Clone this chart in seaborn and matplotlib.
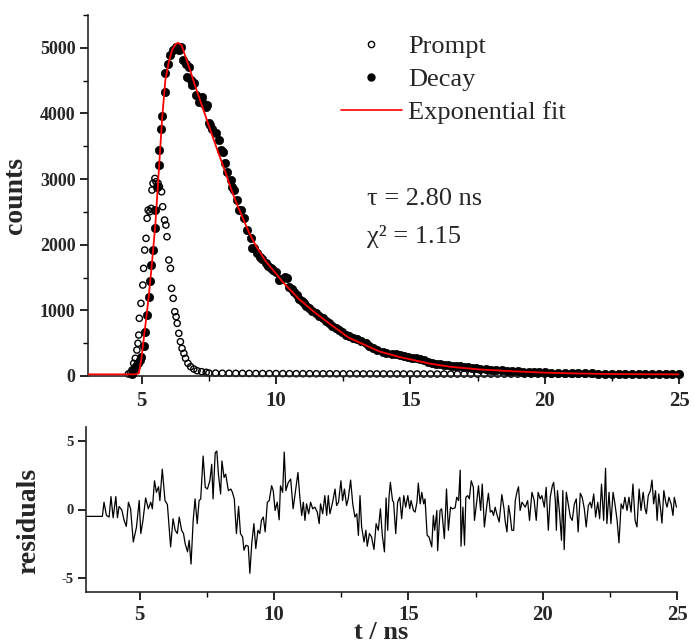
import seaborn as sns
import matplotlib.pyplot as plt
import numpy as np
from matplotlib.lines import Line2D
from matplotlib.ticker import MultipleLocator

# prompt (instrument response)
prompt_t = [4.50, 4.58, 4.64, 4.70, 4.76, 4.82, 4.86, 4.89, 4.91, 4.97, 5.04, 5.07,
            5.11, 5.16, 5.20, 5.24, 5.30, 5.35, 5.38, 5.42, 5.49, 5.53, 5.61, 5.66,
            5.74, 5.78, 5.85, 5.90, 5.94, 6.01, 6.07, 6.11, 6.17, 6.23, 6.28, 6.32,
            6.38, 6.44, 6.50, 6.57, 6.63, 6.72, 6.82, 6.94, 7.06, 7.23, 7.40]
prompt_c = [30, 50, 91, 193, 270, 396, 498, 624, 879, 1107, 1386, 1640,
            1919, 2097, 2402, 2528, 2502, 2554, 2833, 2935, 3010, 2960, 2935, 2883,
            2807, 2579, 2376, 2300, 2122, 1767, 1640, 1335, 1183, 980, 903, 802,
            650, 523, 421, 345, 270, 193, 142, 107, 81, 66, 56]
# flat prompt baseline, one value per channel from 7.5 ns to 25 ns
prompt_tail = [45, 44, 42, 41, 40, 40, 39, 38, 38, 37, 37, 36, 36, 35, 35, 35, 34, 34,
               34, 33, 33, 33, 33, 32, 32, 32, 32, 31, 31, 31, 31, 31, 30, 30, 30, 30,
               30, 30, 30, 29, 29, 29, 29, 29, 29, 29, 29, 28, 28, 28, 28, 28, 28, 28,
               28, 28, 28, 27, 27, 27, 27, 27, 27, 27, 27, 27, 27, 27, 27, 27, 27]

decay_t = [4.62, 4.70, 4.78, 4.86, 4.93, 4.99, 5.07, 5.14, 5.20, 5.26, 5.32, 5.36,
           5.42, 5.49, 5.51, 5.57, 5.63, 5.66, 5.70, 5.76, 5.85, 5.88, 5.98, 6.07,
           6.16, 6.26, 6.32, 6.38, 6.48, 6.53, 6.63, 6.69, 6.75, 6.82, 6.88, 6.94,
           7.03, 7.13, 7.19, 7.23, 7.31, 7.38, 7.44, 7.50, 7.56, 7.62, 7.75, 7.87,
           7.94, 8.02, 8.10, 8.18, 8.31, 8.37, 8.43, 8.56, 8.62, 8.68, 8.81, 8.93,
           9.06, 9.12, 9.18, 9.30, 9.40, 9.49, 9.62, 9.70, 9.80, 9.90, 9.99, 10.11,
           10.18, 10.34, 10.42, 10.49, 10.58, 10.67, 10.77, 10.86, 10.95, 11.04, 11.13, 11.23,
           11.35, 11.48, 11.60, 11.73, 11.85, 11.98, 12.10, 12.23, 12.35, 12.47, 12.60, 12.72,
           12.85, 13.00, 13.15, 13.35, 13.47, 13.60, 13.75, 13.97, 14.10, 14.30, 14.45, 14.60,
           14.75, 14.90, 15.05, 15.20, 15.35, 15.50, 15.65, 15.80, 15.95, 16.10, 16.25, 16.40,
           16.55, 16.70, 16.85, 17.00, 17.15, 17.30, 17.45, 17.60, 17.80, 18.00, 18.20, 18.40,
           18.60, 18.80, 19.00, 19.20, 19.40, 19.60, 19.80, 20.00, 20.25, 20.50, 20.75, 21.00,
           21.25, 21.50, 21.75, 22.00, 22.25, 22.50, 22.75, 23.00, 23.25, 23.50, 23.75, 24.00,
           24.25, 24.50, 24.75, 25.00]
decay_c = [30, 110, 150, 200, 250, 290, 450, 675, 930, 1210, 1440, 1690,
           1920, 2250, 2530, 2880, 3210, 3440, 3760, 3960, 4330, 4610, 4760, 4890,
           4965, 5015, 4990, 4965, 5015, 4810, 4760, 4560, 4710, 4510, 4430, 4460,
           4280, 4180, 4200, 4250, 4150, 4100, 4130, 3850, 3820, 3770, 3700, 3590,
           3440, 3420, 3240, 3110, 2985, 2880, 2830, 2680, 2530, 2530, 2400, 2220,
           2100, 1945, 1945, 1870, 1820, 1790, 1716, 1680, 1640, 1610, 1590, 1462,
           1480, 1512, 1500, 1360, 1320, 1284, 1230, 1180, 1140, 1107, 1070, 1031,
           990, 955, 915, 879, 840, 810, 760, 726, 700, 675, 630, 610,
           585, 560, 530, 500, 450, 420, 400, 370, 355, 340, 330, 320,
           300, 290, 280, 270, 255, 240, 220, 200, 190, 180, 175, 165,
           158, 150, 145, 140, 132, 125, 118, 110, 100, 95, 90, 85,
           80, 75, 70, 65, 62, 60, 57, 55, 52, 50, 47, 45,
           43, 40, 39, 38, 36, 35, 34, 33, 33, 32, 31, 30,
           30, 30, 29, 28]

fit_t = [3.00, 4.70, 4.80, 4.89, 4.99, 5.07, 5.16, 5.26, 5.38, 5.51, 5.63, 5.76,
         5.88, 6.01, 6.13, 6.26, 6.35, 6.48, 6.63, 6.82, 7.00, 7.25, 7.50, 7.81,
         8.12, 8.37, 8.56, 8.99, 9.24, 9.62, 9.99, 10.24, 10.86, 11.48, 12.10, 12.70,
         13.35, 13.84, 14.59, 15.71, 16.50, 17.57, 18.80, 20.06, 21.30, 22.55, 25.00]
fit_c = [25, 25, 30, 41, 270, 548, 853, 1208, 1716, 2325, 3087, 3925,
         4508, 4787, 4965, 5056, 5076, 5041, 4863, 4634, 4406, 4110, 3810, 3450,
         3100, 2800, 2600, 2190, 1990, 1745, 1564, 1436, 1170, 955, 765, 585,
         465, 375, 290, 190, 140, 100, 72, 50, 38, 30, 25]

res_t = [3.00, 3.61, 3.67, 3.76, 3.86, 3.93, 4.01, 4.11, 4.17, 4.23, 4.33, 4.42,
         4.50, 4.58, 4.66, 4.76, 4.88, 4.98, 5.04, 5.12, 5.22, 5.32, 5.41, 5.47,
         5.55, 5.62, 5.70, 5.75, 5.84, 5.94, 6.03, 6.15, 6.24, 6.32, 6.40, 6.47,
         6.56, 6.63, 6.69, 6.78, 6.84, 6.91, 6.99, 7.06, 7.14, 7.21, 7.27, 7.36,
         7.44, 7.52, 7.61, 7.68, 7.73, 7.81, 7.87, 7.93, 8.01, 8.06, 8.14, 8.20,
         8.30, 8.39, 8.45, 8.52, 8.60, 8.68, 8.75, 8.83, 8.88, 8.95, 9.04, 9.10,
         9.17, 9.25, 9.32, 9.40, 9.47, 9.53, 9.60, 9.67, 9.75, 9.82, 9.91, 9.97,
         10.04, 10.12, 10.19, 10.24, 10.32, 10.38, 10.44, 10.53, 10.62, 10.71, 10.81, 10.89,
         10.96, 11.03, 11.09, 11.15, 11.21, 11.29, 11.36, 11.44, 11.52, 11.61, 11.68, 11.73,
         11.81, 11.89, 11.96, 12.02, 12.08, 12.18, 12.27, 12.33, 12.40, 12.49, 12.55, 12.62,
         12.70, 12.76, 12.85, 12.93, 13.01, 13.08, 13.14, 13.20, 13.26, 13.35, 13.42, 13.47,
         13.55, 13.63, 13.72, 13.80, 13.88, 13.96, 14.03, 14.11, 14.17, 14.23, 14.28, 14.33,
         14.41, 14.45, 14.53, 14.60, 14.68, 14.75, 14.83, 14.90, 14.98, 15.05, 15.10, 15.19,
         15.25, 15.32, 15.37, 15.44, 15.50, 15.57, 15.62, 15.70, 15.77, 15.87, 15.93, 15.98,
         16.06, 16.09, 16.18, 16.24, 16.34, 16.42, 16.49, 16.57, 16.64, 16.74, 16.80, 16.87,
         16.93, 16.96, 17.03, 17.09, 17.14, 17.21, 17.27, 17.34, 17.42, 17.46, 17.55, 17.61,
         17.69, 17.75, 17.83, 17.92, 17.98, 18.05, 18.11, 18.17, 18.23, 18.29, 18.38, 18.48,
         18.56, 18.60, 18.67, 18.73, 18.79, 18.85, 18.92, 18.98, 19.04, 19.10, 19.16, 19.23,
         19.31, 19.35, 19.44, 19.51, 19.60, 19.68, 19.76, 19.83, 19.91, 19.97, 20.06, 20.13,
         20.21, 20.28, 20.36, 20.41, 20.47, 20.51, 20.55, 20.63, 20.70, 20.75, 20.80, 20.88,
         20.95, 21.03, 21.10, 21.18, 21.25, 21.32, 21.40, 21.47, 21.55, 21.62, 21.70, 21.77,
         21.82, 21.90, 21.97, 22.05, 22.12, 22.19, 22.27, 22.34, 22.39, 22.47, 22.54, 22.62,
         22.69, 22.77, 22.84, 22.92, 22.99, 23.06, 23.14, 23.21, 23.29, 23.36, 23.44, 23.51,
         23.59, 23.66, 23.74, 23.81, 23.86, 23.93, 24.01, 24.07, 24.13, 24.20, 24.26, 24.32,
         24.38, 24.44, 24.51, 24.58, 24.63, 24.70, 24.78, 24.85, 24.90, 24.98]
res_v = [-0.50, -0.50, 0.53, -0.43, -0.55, 0.94, -0.60, 0.94, -0.60, 0.22, -0.02, -0.79,
         -1.23, 0.53, 0.05, -2.36, -1.27, 0.65, -1.75, -0.79, 0.84, 0.05, 0.53, 0.05,
         2.09, 1.25, 1.66, 0.65, 2.93, 0.65, 0.36, -2.72, -0.67, -1.51, -1.75, -0.55,
         -1.51, -1.75, -2.48, -3.08, -2.24, -3.97, -0.79, 0.77, -1.03, 0.65, 0.77, 3.89,
         1.61, 1.49, 2.09, 3.29, 0.77, 4.13, 4.25, 2.57, 1.13, 3.53, 2.33, 2.57,
         1.37, 1.49, 1.25, 0.77, -1.75, 0.22, -1.75, -2.00, -2.96, -2.60, -2.67, -4.64,
         -2.48, -1.03, -2.84, -1.51, -1.75, -0.79, -0.55, -1.63, 0.53, 0.65, 1.73, 1.37,
         -0.07, 0.53, -0.75, 1.73, 1.25, 4.18, 1.37, 1.97, 2.21, 0.05, 1.49, 2.69,
         0.89, -0.43, 0.53, -0.79, 0.41, -0.31, 0.53, 0.05, 0.17, -0.19, -1.03, 0.41,
         -0.31, 1.01, -0.43, 1.01, -0.31, 0.53, 1.49, 0.29, 0.53, 2.09, 0.65, 1.49,
         0.29, 0.77, 2.14, 0.41, -0.55, -0.31, -1.88, 1.01, -1.27, -2.36, -1.51, -2.67,
         -1.75, -2.00, -2.91, -1.03, -1.51, 0.05, -1.88, -3.08, 0.84, -1.51, 0.89, 1.97,
         0.65, 0.53, -1.75, 0.53, 0.89, -0.67, 1.01, 0.17, 1.01, 0.05, 0.65, -0.07,
         -0.19, 0.53, 1.92, 0.41, 1.25, 0.41, 0.77, -1.88, -2.00, -2.72, -0.43, -1.51,
         -0.07, -3.00, -0.07, 0.05, -2.12, 1.49, -1.51, 0.17, 0.05, 0.12, 0.89, 0.65,
         2.86, -2.67, 0.17, -2.60, 0.89, 1.01, 0.77, 2.09, 1.61, -0.79, 0.65, 1.73,
         -0.07, 1.85, -1.27, 0.29, 1.18, -0.19, -0.07, -0.43, 0.17, -0.31, -0.91, 1.08,
         0.05, -0.79, -1.63, 0.29, -0.43, -1.51, -1.51, 0.65, 1.25, 1.66, -0.07, 0.53,
         0.29, 0.17, 0.65, -0.79, 1.25, 0.70, -0.79, 1.25, 0.77, 1.01, 0.17, 1.61,
         -1.51, 0.89, 1.73, 1.97, 0.65, -1.51, 1.37, -0.31, -2.24, 1.37, -2.91, 1.25,
         0.41, -0.55, -0.79, 0.41, 0.77, -1.63, 1.18, 0.89, 0.05, -1.27, 0.29, 0.53,
         0.12, 1.13, -0.55, 0.53, -0.67, 1.85, -0.79, 3.00, -1.03, 1.25, -1.03, 1.25,
         0.41, -0.79, -2.43, 0.41, 0.05, 0.89, -0.07, 0.89, -0.19, 1.85, -0.79, -1.27,
         1.49, -0.07, 1.25, 0.05, -0.31, 1.01, 1.37, 2.14, 0.41, 1.37, -0.79, 1.13,
         0.17, -0.99, 1.37, 0.53, 0.17, 0.89, 0.41, -0.43, 0.89, 0.17]

sns.set_theme(style='ticks')
plt.rcParams['font.family'] = ['Liberation Serif', 'DejaVu Serif']
plt.rcParams['axes.linewidth'] = 1.2
plt.rcParams['axes.unicode_minus'] = False

fig = plt.figure(figsize=(6.94, 6.44), dpi=100)
ax1 = fig.add_axes([88 / 694, 1 - 376 / 644, 591 / 694, 361 / 644])
ax2 = fig.add_axes([86 / 694, 1 - 592 / 644, 591 / 694, 165 / 644])

# top panel: prompt, decay and fit
pt = prompt_t + list(np.linspace(7.5, 25, len(prompt_tail)))
pc = prompt_c + prompt_tail
sns.scatterplot(x=pt, y=pc, ax=ax1, marker='o', s=20, facecolor='none',
                edgecolor='black', linewidth=1.0, zorder=2, clip_on=False)
sns.scatterplot(x=decay_t, y=decay_c, ax=ax1, marker='o', s=36, color='black',
                edgecolor='black', linewidth=0.5, zorder=3, clip_on=False)
sns.lineplot(x=fit_t, y=fit_c, ax=ax1, color='red', linewidth=1.3,
             estimator=None, sort=False, zorder=4)

ax1.set_xlim(3, 25)
ax1.set_ylim(0, 5500)
ax1.xaxis.set_major_locator(MultipleLocator(5))
ax1.xaxis.set_minor_locator(MultipleLocator(2.5))
ax1.yaxis.set_major_locator(MultipleLocator(1000))
ax1.yaxis.set_minor_locator(MultipleLocator(500))
ax1.set_ylabel('counts', fontsize=20, fontweight='bold')
ax1.yaxis.set_label_coords(-0.101, 0.5)
ax1.set_xlabel('')

# bottom panel: residuals
sns.lineplot(x=res_t, y=res_v, ax=ax2, color='black', linewidth=0.9,
             estimator=None, sort=False)
ax2.set_xlim(3, 25)
ax2.set_ylim(-6, 6)
ax2.xaxis.set_major_locator(MultipleLocator(5))
ax2.xaxis.set_minor_locator(MultipleLocator(2.5))
ax2.yaxis.set_major_locator(MultipleLocator(5))
ax2.set_ylabel('residuals', fontsize=20, fontweight='bold')
ax2.yaxis.set_label_coords(-0.075, 0.43)
ax2.set_xlabel('t / ns', fontsize=19, fontweight='bold', va='top')
ax2.xaxis.set_label_coords(0.5, -0.178)

for ax in (ax1, ax2):
    sns.despine(ax=ax)
    ax.tick_params(which='major', direction='out', length=6, width=1.2, color='black')
    ax.tick_params(which='minor', direction='out', length=3.5, width=1.0, color='black')
    ax.tick_params(axis='x', labelsize=15, pad=5)
    for lab in ax.get_xticklabels() + ax.get_yticklabels():
        lab.set_fontweight('bold')
ax1.tick_params(axis='y', labelsize=13, pad=3)
ax2.tick_params(axis='y', labelsize=10.5, pad=3)
ax2.tick_params(axis='x', pad=3)

handles = [
    Line2D([], [], linestyle='none', marker='o', markersize=4.5, markerfacecolor='none',
           markeredgecolor='black', markeredgewidth=1.0),
    Line2D([], [], linestyle='none', marker='o', markersize=5, color='black'),
    Line2D([], [], color='red', linewidth=1.2),
]
ax1.legend(handles, ['Prompt', 'Decay', 'Exponential fit'], loc='upper left',
           bbox_to_anchor=(341 / 694, 1 - 35 / 644), bbox_transform=fig.transFigure,
           frameon=False, fontsize=19, handlelength=2.3, handletextpad=0.25,
           labelspacing=0.36, borderpad=0, borderaxespad=0)

fig.text(367 / 694, 1 - 199 / 644, 'τ = 2.80 ns', fontsize=19, va='center', ha='left')
fig.text(367 / 694, 1 - 236 / 644, 'χ² = 1.15', fontsize=19, va='center', ha='left')

fig.savefig('out.png', dpi=100)
